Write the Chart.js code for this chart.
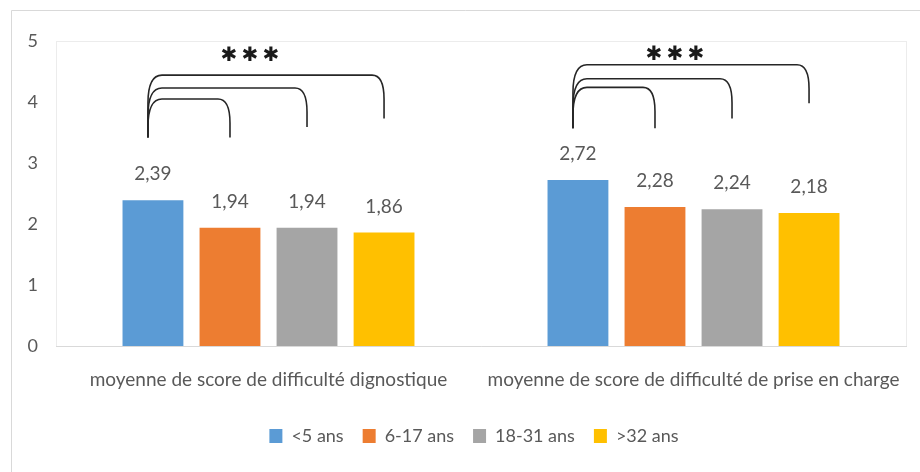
<!DOCTYPE html>
<html>
<head>
<meta charset="utf-8">
<script src="https://cdn.jsdelivr.net/npm/chart.js@4.4.1/dist/chart.umd.min.js"></script>
<style>
html,body{margin:0;padding:0;background:#fff;}
#c{display:block;}
</style>
</head>
<body>
<canvas id="c" width="920" height="472"></canvas>
<script>
// ---- data ----
const categories = ["moyenne de score de difficulté dignostique", "moyenne de score de difficulté de prise en charge"];
const seriesNames = ["<5 ans", "6-17 ans", "18-31 ans", ">32 ans"];
const valuesLt5 = [2.39, 2.72];
const values6to17 = [1.94, 2.28];
const values18to31 = [1.94, 2.24];
const valuesGt32 = [1.86, 2.18];
const yTicks = [0, 1, 2, 3, 4, 5];
// significance brackets (in value units), per category
const bracketStartLevel = [3.42, 3.57];
const bracketTopLevels = [[4.05, 4.23, 4.44], [4.24, 4.38, 4.61]];
const bracketEndLevels = [[3.42, 3.59, 3.73], [3.57, 3.73, 3.98]];
const starLevel = [4.77, 4.79];
const starText = "***";

const colors = ["#5B9BD5", "#ED7D31", "#A5A5A5", "#FFC000"];
const seriesValues = [valuesLt5, values6to17, values18to31, valuesGt32];
const FONT = "Lato, 'Liberation Sans', sans-serif";
const TXT = "#595959";

const framePlugin = {
  id: 'frame',
  afterLayout(chart) {
    const lg = chart.legend;
    if (lg) {
      lg.left += 21; lg.right += 21;
      lg.adjustHitBoxes();
    }
  },
  beforeDraw(chart) {
    const ctx = chart.ctx;
    const a = chart.chartArea;
    ctx.save();
    ctx.fillStyle = '#fff';
    ctx.fillRect(0, 0, chart.width, chart.height);
    ctx.strokeStyle = '#d9d9d9';
    ctx.lineWidth = 1;
    ctx.beginPath();
    ctx.moveTo(11.5, chart.height);
    ctx.lineTo(11.5, 10.5);
    ctx.lineTo(chart.width, 10.5);
    ctx.stroke();
    ctx.strokeStyle = '#ececec';
    ctx.strokeRect(Math.round(a.left) + 0.5, Math.round(a.top) + 0.5, Math.round(a.right - a.left), Math.round(a.bottom - a.top));
    ctx.restore();
  }
};

const labelPlugin = {
  id: 'valueLabels',
  afterDatasetsDraw(chart) {
    const ctx = chart.ctx;
    ctx.save();
    ctx.font = "19px " + FONT;
    ctx.fillStyle = TXT;
    ctx.textAlign = 'center';
    ctx.textBaseline = 'middle';
    chart.data.datasets.forEach((ds, i) => {
      chart.getDatasetMeta(i).data.forEach((bar, j) => {
        ctx.fillText(ds.data[j].toFixed(2).replace('.', ','), bar.x, bar.y - 26);
      });
    });
    ctx.restore();
  }
};

const bracketPlugin = {
  id: 'brackets',
  afterDatasetsDraw(chart) {
    const ctx = chart.ctx;
    const y = chart.scales.y;
    const m0 = chart.getDatasetMeta(0).data;
    ctx.save();
    ctx.strokeStyle = '#262626';
    ctx.lineWidth = 1.6;
    categories.forEach((c, j) => {
      const xL = m0[j].x - 5;
      const yStart = y.getPixelForValue(bracketStartLevel[j]);
      let xMax = xL;
      bracketTopLevels[j].forEach((top, k) => {
        const xR = chart.getDatasetMeta(k + 1).data[j].x;
        const yT = y.getPixelForValue(top);
        const yE = y.getPixelForValue(bracketEndLevels[j][k]);
        const rhL = 14, rvL = 28, rhR = 12, rvR = 24;
        ctx.beginPath();
        ctx.moveTo(xL, yStart);
        ctx.lineTo(xL, Math.min(yStart, yT + rvL));
        ctx.bezierCurveTo(xL, yT + rvL * 0.35, xL + rhL * 0.3, yT, xL + rhL, yT);
        ctx.lineTo(xR - rhR, yT);
        ctx.bezierCurveTo(xR - rhR * 0.3, yT, xR, yT + rvR * 0.4, xR, yT + rvR);
        ctx.lineTo(xR, yE);
        ctx.stroke();
        xMax = Math.max(xMax, xR);
      });
      // stars
      const cx = (xL + xMax) / 2 - 16;
      const cy = y.getPixelForValue(starLevel[j]);
      ctx.fillStyle = '#1a1a1a';
      ctx.font = "bold 20px 'DejaVu Sans', sans-serif";
      ctx.textAlign = 'center';
      ctx.textBaseline = 'middle';
      const n = starText.length;
      for (let s = 0; s < n; s++) {
        ctx.fillText("\u2731", cx + (s - (n - 1) / 2) * 21, cy + 1);
      }
    });
    ctx.restore();
  }
};

new Chart(document.getElementById('c'), {
  type: 'bar',
  data: {
    labels: categories,
    datasets: seriesNames.map((name, i) => ({
      label: name,
      data: seriesValues[i],
      backgroundColor: colors[i],
      borderWidth: 0,
      categoryPercentage: 0.725,
      barPercentage: 0.79
    }))
  },
  options: {
    responsive: false,
    animation: false,
    devicePixelRatio: 1,
    layout: { padding: { top: 41, right: 14, bottom: 17, left: 0 } },
    plugins: {
      legend: {
        position: 'bottom',
        labels: {
          boxWidth: 13,
          boxHeight: 14,
          padding: 19,
          color: TXT,
          font: { size: 18, family: FONT }
        }
      },
      tooltip: { enabled: false }
    },
    scales: {
      y: {
        min: 0, max: 5,
        afterBuildTicks: s => { s.ticks = yTicks.map(v => ({ value: v })); },
        ticks: { color: TXT, font: { size: 18, family: FONT }, padding: 18 },
        grid: { display: false, drawTicks: false },
        border: { display: false },
        afterFit: s => { s.width = 56; }
      },
      x: {
        grid: { display: false, drawTicks: false },
        border: { display: true, color: '#d9d9d9' },
        ticks: { color: TXT, font: { size: 19, family: FONT }, padding: 22 },
        afterFit: s => { s.height = 62; s.paddingLeft = 0; s.paddingRight = 0; }
      }
    }
  },
  plugins: [framePlugin, labelPlugin, bracketPlugin]
});
</script>
</body>
</html>
